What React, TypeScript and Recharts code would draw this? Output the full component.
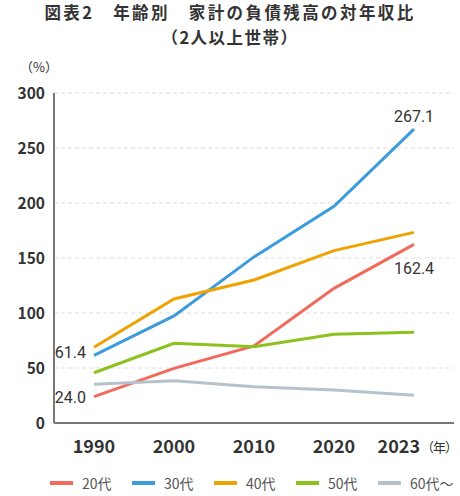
import { LineChart, Line, XAxis, YAxis, CartesianGrid, LabelList } from 'recharts';

const years = ['1990', '2000', '2010', '2020', '2023'];
const age20 = [24.0, 49.7, 70.0, 122.4, 162.4];
const age30 = [61.4, 97.3, 151.0, 197.0, 267.1];
const age40 = [68.8, 112.7, 130.0, 156.7, 173.3];
const age50 = [45.7, 72.4, 69.4, 80.6, 82.4];
const age60 = [35.2, 38.5, 33.0, 30.0, 25.2];
const yTicks = [0, 50, 100, 150, 200, 250, 300];

const series = [
  { key: 'a20', name: '20代', color: '#f26a5c' },
  { key: 'a30', name: '30代', color: '#3b9bdb' },
  { key: 'a40', name: '40代', color: '#f0a202' },
  { key: 'a50', name: '50代', color: '#8cc21e' },
  { key: 'a60', name: '60代〜', color: '#b4c3cb' },
];

const data = years.map((y, i) => ({
  year: y,
  a20: age20[i],
  a30: age30[i],
  a40: age40[i],
  a50: age50[i],
  a60: age60[i],
}));

const font = '"Noto Sans CJK JP", "Noto Sans", sans-serif';

const XTick = (props: any) => {
  const { x, y, payload } = props;
  const last = payload.value === '2023';
  return (
    <g>
      <text
        x={last ? x + 6 : x}
        y={y + 22}
        textAnchor={last ? 'end' : 'middle'}
        fontSize={18}
        fontWeight={700}
        fill="#333"
        fontFamily={font}
      >
        {payload.value}
      </text>
      {last && (
        <text x={x + 7} y={y + 21} fontSize={13} letterSpacing={-1} fill="#333" fontFamily={font}>
          （年）
        </text>
      )}
    </g>
  );
};

const YTick = (props: any) => {
  const { y, payload } = props;
  return (
    <text x={45} y={y + 6} textAnchor="end" fontSize={15.5} fontWeight={700} fill="#333" fontFamily={font}>
      {payload.value}
    </text>
  );
};

// end labels only where the original shows them
const makeLabel = (spots: Record<number, [number, number, string]>) => (props: any) => {
  const { x, y, value, index } = props;
  const s = spots[index];
  if (!s) return null;
  return (
    <text
      x={x + s[0]}
      y={y + s[1]}
      textAnchor={s[2] as any}
      fontSize={16}
      fill="#333"
      fontFamily="Roboto, sans-serif"
    >
      {Number(value).toFixed(1)}
    </text>
  );
};

export default function App() {
  return (
    <div style={{ position: 'absolute', left: 0, top: 0, width: 460, height: 496, background: '#fff' }}>
      <div
        style={{
          position: 'absolute',
          top: 0,
          left: 0,
          width: 460,
          textAlign: 'center',
          fontFamily: font,
          fontWeight: 700,
          fontSize: 16.5,
          lineHeight: '25px',
          color: '#333',
        }}
      >
        <div style={{ letterSpacing: 2.4 }}>図表2　年齢別　家計の負債残高の対年収比</div>
        <div style={{ letterSpacing: 1.5 }}>（2人以上世帯）</div>
      </div>
      <div style={{ position: 'absolute', top: 57, left: 20, fontFamily: font, fontSize: 13, color: '#333' }}>
        （%）
      </div>
      <LineChart width={460} height={496} data={data} margin={{ top: 93, right: 6, bottom: 43, left: 0 }}>
        <CartesianGrid vertical={false} strokeDasharray="4 3" stroke="#ddd" />
        <XAxis
          dataKey="year"
          padding={{ left: 40, right: 40 }}
          tickLine={false}
          axisLine={{ stroke: '#777', strokeWidth: 2 }}
          tick={<XTick />}
          interval={0}
        />
        <YAxis
          width={54}
          domain={[0, 300]}
          ticks={yTicks}
          tickLine={false}
          axisLine={{ stroke: '#777', strokeWidth: 2 }}
          tick={<YTick />}
        />
        {series.map((s) => (
          <Line
            key={s.key}
            dataKey={s.key}
            name={s.name}
            stroke={s.color}
            strokeWidth={3}
            dot={false}
            isAnimationActive={false}
          >
            {s.key === 'a20' && (
              <LabelList dataKey={s.key} content={makeLabel({ 0: [-8, 6, 'end'], 4: [0, 30, 'middle'] })} />
            )}
            {s.key === 'a30' && (
              <LabelList dataKey={s.key} content={makeLabel({ 0: [-8, 3, 'end'], 4: [0, -7, 'middle'] })} />
            )}
          </Line>
        ))}
      </LineChart>
      <div style={{ position: 'absolute', top: 473, left: 50, display: 'flex', fontFamily: font, fontSize: 14, color: '#555' }}>
        {series.map((s) => (
          <div key={s.key} style={{ width: 82, display: 'flex', alignItems: 'center' }}>
            <span style={{ display: 'inline-block', width: 23, height: 4, background: s.color, marginRight: 9 }} />
            <span>{s.name}</span>
          </div>
        ))}
      </div>
    </div>
  );
}
